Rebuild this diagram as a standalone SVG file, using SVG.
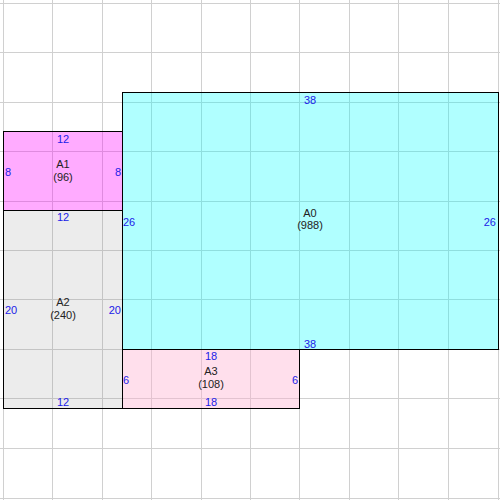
<svg xmlns="http://www.w3.org/2000/svg" width="500" height="500" viewBox="0 0 500 500">
<style>
.area{stroke:#000;stroke-width:1}
.grid line{stroke:#d0d0d0;stroke-width:1}
.dim{font-family:"Liberation Sans",Arial,sans-serif;font-size:11px;fill:#2020e8}
.name{font-family:"Liberation Sans",Arial,sans-serif;font-size:11px;fill:#222;text-anchor:middle}
.m{text-anchor:middle}
.e{text-anchor:end}
</style>
<rect width="500" height="500" fill="#fff"/>
<g class="grid">
<line x1="3.5" y1="0" x2="3.5" y2="500"/>
<line x1="52.5" y1="0" x2="52.5" y2="500"/>
<line x1="102.5" y1="0" x2="102.5" y2="500"/>
<line x1="151.5" y1="0" x2="151.5" y2="500"/>
<line x1="201.5" y1="0" x2="201.5" y2="500"/>
<line x1="250.5" y1="0" x2="250.5" y2="500"/>
<line x1="299.5" y1="0" x2="299.5" y2="500"/>
<line x1="349.5" y1="0" x2="349.5" y2="500"/>
<line x1="398.5" y1="0" x2="398.5" y2="500"/>
<line x1="448.5" y1="0" x2="448.5" y2="500"/>
<line x1="498.5" y1="0" x2="498.5" y2="500"/>
<line x1="0" y1="3.5" x2="500" y2="3.5"/>
<line x1="0" y1="52.5" x2="500" y2="52.5"/>
<line x1="0" y1="102.5" x2="500" y2="102.5"/>
<line x1="0" y1="151.5" x2="500" y2="151.5"/>
<line x1="0" y1="201.5" x2="500" y2="201.5"/>
<line x1="0" y1="250.5" x2="500" y2="250.5"/>
<line x1="0" y1="299.5" x2="500" y2="299.5"/>
<line x1="0" y1="349.5" x2="500" y2="349.5"/>
<line x1="0" y1="398.5" x2="500" y2="398.5"/>
<line x1="0" y1="448.5" x2="500" y2="448.5"/>
<line x1="0" y1="498.5" x2="500" y2="498.5"/>
</g>
<g id="shapes">
<rect class="area" x="122.5" y="92.5" width="376" height="257" fill="#00ffff" fill-opacity="0.31"/>
<rect class="area" x="3.5" y="131.5" width="119" height="79" fill="#ff00ff" fill-opacity="0.33"/>
<rect class="area" x="3.5" y="210.5" width="119" height="198" fill="#808080" fill-opacity="0.15"/>
<rect class="area" x="122.5" y="349.5" width="177" height="59" fill="#ffb0d0" fill-opacity="0.4"/>
</g>
<g id="A0">
<text class="name" x="310" y="217">A0</text>
<text class="name" x="310" y="229">(988)</text>
<text class="dim m" x="310" y="103.5">38</text>
<text class="dim m" x="310" y="347.5">38</text>
<text class="dim" x="123" y="225.5">26</text>
<text class="dim e" x="496" y="225.5">26</text>
</g>
<g id="A1">
<text class="name" x="63" y="167.5">A1</text>
<text class="name" x="63" y="180.5">(96)</text>
<text class="dim m" x="63" y="142.5">12</text>
<text class="dim" x="5" y="175.5">8</text>
<text class="dim e" x="121" y="175.5">8</text>
</g>
<g id="A2">
<text class="name" x="63" y="306">A2</text>
<text class="name" x="63" y="319">(240)</text>
<text class="dim m" x="63" y="221">12</text>
<text class="dim m" x="63" y="406">12</text>
<text class="dim" x="5" y="314">20</text>
<text class="dim e" x="121" y="314">20</text>
</g>
<g id="A3">
<text class="name" x="211" y="375">A3</text>
<text class="name" x="211" y="388">(108)</text>
<text class="dim m" x="211" y="360">18</text>
<text class="dim m" x="211" y="406">18</text>
<text class="dim" x="123" y="384">6</text>
<text class="dim e" x="298" y="384">6</text>
</g>
</svg>
